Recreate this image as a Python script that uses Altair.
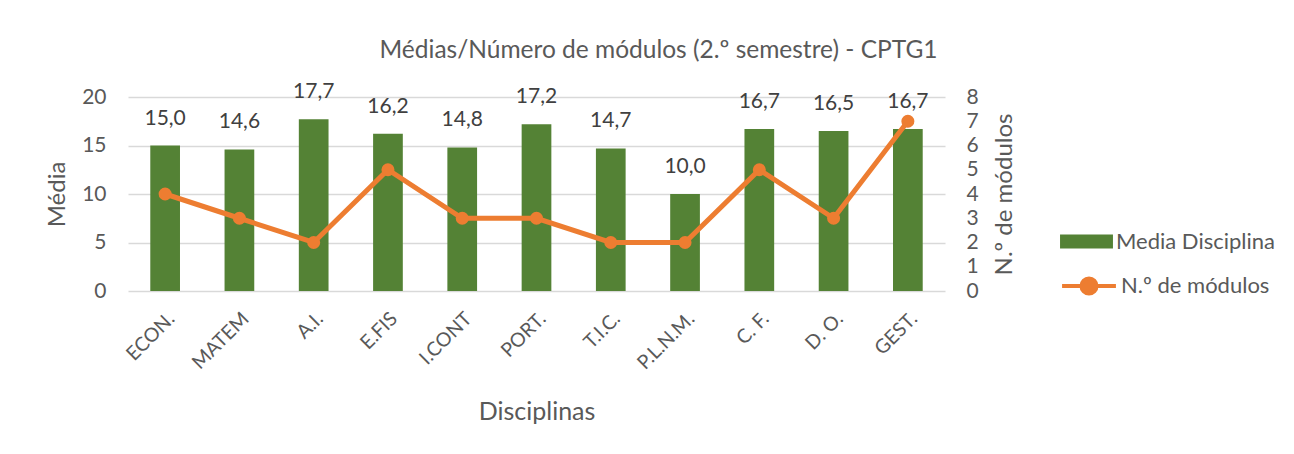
import altair as alt
import pandas as pd

disciplinas = ["ECON.", "MATEM", "A.I.", "E.FIS", "I.CONT", "PORT.", "T.I.C.", "P.L.N.M.", "C. F.", "D. O.", "GEST."]
medias = [15.0, 14.6, 17.7, 16.2, 14.8, 17.2, 14.7, 10.0, 16.7, 16.5, 16.7]
modulos = [4, 3, 2, 5, 3, 3, 2, 2, 5, 3, 7]
serie_barras = "Media Disciplina"
serie_linha = "N.º de módulos"

df = pd.DataFrame({
    "disc": disciplinas,
    "media": medias,
    "modulos": modulos,
    "s1": serie_barras,
    "s2": serie_linha,
})

FONT = "Lato"
GREY = "#595959"
GREEN = "#548235"
ORANGE = "#ED7D31"

x = alt.X(
    "disc:N", sort=disciplinas, title="Disciplinas",
    scale=alt.Scale(paddingInner=0.6, paddingOuter=0.3),
    axis=alt.Axis(labelAngle=-45, labelFontSize=19.5, labelColor=GREY, labelFont=FONT,
                  ticks=False, domain=False, labelPadding=18,
                  titleFontSize=25, titleColor=GREY, titleFont=FONT, titleFontWeight="normal",
                  titlePadding=27),
)

left_axis = alt.Axis(values=[0, 5, 10, 15, 20], grid=True, gridColor="#d9d9d9", gridWidth=1.5,
                     ticks=False, domain=False, labelFontSize=21, labelColor=GREY, labelFont=FONT,
                     labelPadding=22, titleFontSize=24, titleColor=GREY, titleFont=FONT,
                     titleFontWeight="normal", titlePadding=12)
right_axis = alt.Axis(orient="right", values=list(range(0, 9)), grid=False, ticks=False, domain=False,
                      labelFontSize=21, labelColor=GREY, labelFont=FONT, labelPadding=21,
                      titleFontSize=24, titleColor=GREY, titleFont=FONT, titleFontWeight="normal",
                      titlePadding=14, titleAngle=270, titleBaseline="top")

bars = alt.Chart(df).mark_bar(color=GREEN).encode(
    x=x,
    y=alt.Y("media:Q", title="Média", scale=alt.Scale(domain=[0, 20]), axis=left_axis),
    fill=alt.Fill("s1:N", scale=alt.Scale(domain=[serie_barras], range=[GREEN]),
                  legend=alt.Legend(title=None, orient="none", legendX=932, legendY=118,
                                    symbolType="M-1,-0.26L1,-0.26L1,0.26L-1,0.26Z",
                                    symbolSize=2800, symbolStrokeWidth=0,
                                    labelFontSize=22, labelColor=GREY, labelFont=FONT,
                                    labelOffset=3)),
)

text = alt.Chart(df).transform_calculate(
    lbl="replace(format(datum.media, '.1f'), '.', ',')"
).mark_text(fontSize=21, font=FONT, color="#404040", baseline="middle", dy=-27).encode(
    x=x,
    y=alt.Y("media:Q", title="Média", scale=alt.Scale(domain=[0, 20]), axis=left_axis),
    text="lbl:N",
)

line = alt.Chart(df).mark_line(strokeWidth=5).encode(
    x=x,
    y=alt.Y("modulos:Q", title="N.º de módulos", scale=alt.Scale(domain=[0, 8]), axis=right_axis),
    stroke=alt.Stroke("s2:N", scale=alt.Scale(domain=[serie_linha], range=[ORANGE]),
                      legend=alt.Legend(title=None, orient="none", legendX=932, legendY=160,
                                        symbolType="M-1,0L1,0M0.28,0A0.28,0.28,0,1,1,-0.28,0A0.28,0.28,0,1,1,0.28,0Z",
                                        symbolSize=2900, symbolStrokeWidth=4,
                                        symbolFillColor=ORANGE, symbolStrokeColor=ORANGE,
                                        labelFontSize=22, labelColor=GREY, labelFont=FONT,
                                        labelOffset=3)),
)

points = alt.Chart(df).mark_circle(size=170, color=ORANGE, opacity=1).encode(
    x=x,
    y=alt.Y("modulos:Q", title="N.º de módulos", scale=alt.Scale(domain=[0, 8]), axis=right_axis),
)

chart = alt.layer(
    alt.layer(bars, text),
    alt.layer(line, points),
).resolve_scale(y="independent", fill="independent", stroke="independent").properties(
    width=817,
    height=194,
    title=alt.Title("Médias/Número de módulos (2.º semestre) - CPTG1", fontSize=24.5, color=GREY,
                    font=FONT, fontWeight="normal", anchor="middle", frame="group",
                    dx=122, offset=18),
    autosize=alt.AutoSizeParams(type="none"),
    padding={"left": 120, "top": 89, "right": 340, "bottom": 150},
    background="white",
).configure_view(stroke=None)

chart.save("out.html", embed_options={"renderer": "svg", "actions": False})
